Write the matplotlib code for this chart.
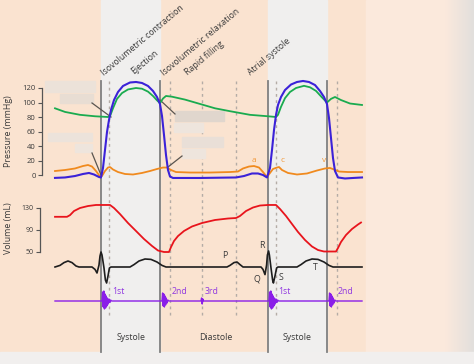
import matplotlib
matplotlib.use("Agg")
import matplotlib.pyplot as plt
import numpy as np
from matplotlib.patches import Rectangle

plt.rcParams['font.family'] = ['Open Sans', 'DejaVu Sans']

# ---------------- data (time in ms, R wave of first beat at 0) ----------------
aortic_t = [-230, -180, -105, -30, 35, 45, 60, 80, 105, 135, 175, 205, 235, 260, 280, 295,
            310, 325, 355, 420, 495, 570, 645, 745, 835, 875, 885, 900, 920, 945, 975, 1015,
            1045, 1075, 1105, 1130, 1150, 1170, 1200, 1245, 1305]
aortic_p = [92, 87, 83, 81, 80, 81, 92, 105, 113, 118, 120, 119, 115, 109, 103, 99,
            105.5, 109, 108, 104, 98, 92, 88, 83, 81, 80, 83, 94, 106, 114.5, 120, 123,
            121, 116, 107, 100, 105, 107.6, 103.4, 98.6, 96.6]

lv_t = [-230, -180, -130, -90, -60, -35, -10, 0, 10, 20, 30, 40, 50, 65, 85, 110, 145, 175,
        205, 235, 260, 280, 295, 305, 315, 325, 335, 345, 360, 495, 675, 715, 755, 785, 810,
        830, 845, 855, 865, 875, 885, 900, 920, 950, 980, 1010, 1040, 1070, 1095, 1115,
        1130, 1140, 1150, 1160, 1170, 1185, 1220, 1260, 1305]
lv_p = [-4, -3.4, -1.4, 1.4, 2.8, 0.7, -2.8, -3.4, 9.7, 34.5, 59.3, 75.9, 89.7, 103.4,
        114.5, 122.8, 127.6, 128.3, 126.9, 122.8, 115.9, 107.6, 97.9, 81.4, 55.2, 27.6,
        6.9, -2.1, -4.1, -4.1, -3.4, -1.4, 2.1, 2.1, 0, -3.4, 9.7, 34.5, 62, 82.8, 96.6,
        107.6, 117.2, 124.8, 128.3, 129.7, 128.3, 124.1, 115.9, 107.6, 97.9, 78.6, 51,
        23.4, 5.5, -3.4, -4.8, -4.1, -3.4]

atrial_t = [-230, -180, -130, -90, -65, -45, -25, -5, 5, 20, 35, 45, 60, 85, 120, 160, 205,
            245, 280, 310, 330, 350, 375, 445, 545, 645, 685, 710, 740, 765, 790, 810, 830,
            845, 860, 880, 890, 905, 935, 980, 1030, 1080, 1120, 1145, 1165, 1190, 1235, 1305]
atrial_p = [5.5, 6.9, 9, 12.4, 13.8, 11.7, 5.5, -2.1, -1.4, 5.5, 10.3, 11, 7.6, 4.1, 1.4,
            0.7, 2.8, 5.5, 8.3, 10.3, 10.3, 6.9, 4.1, 3.4, 3.4, 4.1, 4.8, 9, 11.7, 12.4,
            10.3, 4.1, -2.8, 2.8, 8.3, 10.3, 11, 6.9, 2.8, 0.7, 2.1, 6.2, 9, 9.7, 7.6, 4.8,
            4.1, 4.1]

volume_t = [-230, -170, -155, -135, -105, -65, -25, 45, 65, 95, 135, 175, 215, 255, 285,
            315, 340, 350, 365, 385, 415, 455, 505, 570, 635, 675, 695, 725, 760, 795, 835,
            875, 895, 925, 955, 985, 1020, 1055, 1085, 1115, 1175, 1185, 1200, 1225, 1255,
            1285, 1300]
volume_ml = [114, 114, 117, 124.5, 130, 133.6, 135.5, 135.5, 130, 119, 102.7, 88.2, 73.6,
             61, 52.7, 50, 50, 59, 70, 79, 88.2, 96.4, 102.7, 108.2, 110.9, 111.8, 115.5,
             124.5, 130.9, 134.5, 135.5, 135.5, 128.2, 115.5, 100.9, 86.4, 71.8, 60, 53.6,
             50.9, 50.9, 57.3, 68.2, 80.9, 91.8, 100, 103.6]

ecg_t = [-230, -205, -185, -165, -145, -125, -110, -45, -30, -20, -10, -5, 0, 5, 15, 22, 28,
         35, 42, 50, 145, 165, 190, 220, 250, 280, 305, 325, 630, 645, 665, 680, 695, 710,
         800, 810, 820, 828, 832, 838, 842, 850, 858, 862, 870, 878, 885, 980, 1000, 1025,
         1055, 1085, 1115, 1140, 1160, 1305]
ecg_mv = [0, 0.08, 0.22, 0.3, 0.22, 0.05, 0, 0, -0.12, -0.3, 0.1, 0.55, 0.75, 0.6, -0.05,
          -0.65, -0.8, -0.45, -0.05, 0, 0, 0.12, 0.3, 0.4, 0.38, 0.25, 0.08, 0, 0, 0.08,
          0.22, 0.25, 0.12, 0, 0, -0.12, -0.38, 0.1, 0.6, 0.8, 0.6, -0.05, -0.65, -0.8,
          -0.45, -0.05, 0, 0, 0.12, 0.3, 0.4, 0.38, 0.25, 0.08, 0, 0]

sound_t = [-230, 5, 8, 11, 14, 17, 20, 23, 26, 29, 32, 36, 40, 44, 48, 53,
           305, 308, 311, 314, 317, 320, 323, 326, 330, 334, 339,
           500, 503, 506, 509, 512,
           840, 843, 846, 849, 852, 855, 858, 861, 864, 867, 871, 875, 879, 883, 888,
           1140, 1143, 1146, 1149, 1152, 1155, 1158, 1161, 1165, 1169, 1174, 1305]
sound_a = [0, 0, 9, -6, 10, -8, 7, -7, 5, -5, 3, -3, 2, -1.5, 1, 0,
           0, 8, -5, 7, -6, 5, -4, 3, -2, 1, 0,
           0, 3, -3, 2, 0,
           0, 9, -6, 10, -8, 7, -7, 5, -5, 3, -3, 2, -1.5, 1, 0,
           0, 8, -5, 7, -6, 5, -4, 3, -2, 1, 0, 0]

pressure_ticks = [0, 20, 40, 60, 80, 100, 120]
volume_ticks = [50, 90, 130]
phase_labels = ['Isovolumetric contraction', 'Ejection', 'Isovolumetric relaxation',
                'Rapid filling', 'Atrial systole']
cycle_labels = ['Systole', 'Diastole', 'Systole']
wave_labels = ['a', 'c', 'v']
ecg_labels = ['P', 'R', 'Q', 'S', 'T']
sound_labels = ['1st', '2nd', '3rd', '1st', '2nd']

# ---------------- layout ----------------
W, H = 474, 364
fig = plt.figure(figsize=(W / 100, H / 100), dpi=100)

PEACH = '#fae3d0'
BAND = '#f0efee'
bg = fig.add_axes([0, 0, 1, 1])
bg.set_xlim(0, W)
bg.set_ylim(H, 0)
bg.axis('off')
bg.add_patch(Rectangle((0, 0), W, H, color=PEACH, zorder=0))
bg.add_patch(Rectangle((366, 0), W - 366, H, color='#fbe9dc', zorder=0))
grad = np.linspace(0, 1, 40)[None, :]
bg.imshow(grad, extent=(445, 474, 352, 0), cmap=matplotlib.colors.LinearSegmentedColormap.from_list(
    'g', ['#fbe9dc', '#e2dfdd']), aspect='auto', zorder=0.5)
bg.add_patch(Rectangle((101, 0), 59, 352, color=BAND, zorder=1))
bg.add_patch(Rectangle((268, 0), 59, 352, color=BAND, zorder=1))
bg.add_patch(Rectangle((0, 352), W, 12, color='#f1efee', zorder=1))
bg.set_xlim(0, W)
bg.set_ylim(H, 0)

for x in [101, 160, 268, 327]:
    bg.plot([x, x], [81, 352], color='#808080', lw=1.3, zorder=2)
for x in [109.5, 170, 202, 236, 276, 337]:
    bg.plot([x, x], [81, 318], color='#b4aca6', lw=1.0, ls=(0, (2, 2.5)), zorder=2)

# blurred (hidden) label boxes
boxes = [(45, 81, 50, 11, '#ece2d9'), (60, 94, 33, 9, '#e8ddd3'), (48, 133, 44, 8, '#ece3db'),
         (75, 144, 17, 8, '#eee5dd'), (175, 111, 49, 10, '#e0d6cd'), (174, 123, 29, 9, '#eee5dd'),
         (182, 137, 41, 10, '#e9dfd7'), (182, 149, 23, 9, '#eee5dd')]
for (x, y, w, h, c) in boxes:
    bg.add_patch(Rectangle((x, y), w, h, color=c, zorder=2))
for (x0, y0, x1, y1) in [(92, 103, 111, 117), (92, 153, 101, 175), (160, 100, 175, 114),
                         (182, 156, 168, 167)]:
    bg.plot([x0, x1], [y0, y1], color='#5a5550', lw=0.9, zorder=3)

TXT = '#3a3a3a'
for (lbl, (x, y)) in zip(phase_labels, [(104, 76), (134, 74), (164, 76), (188, 75), (251, 75)]):
    bg.text(x, y, lbl, rotation=40, rotation_mode='anchor', ha='left', va='baseline',
            fontsize=6.3, color=TXT, zorder=5)
for (lbl, x) in zip(cycle_labels, [131, 216, 297]):
    bg.text(x, 338, lbl, ha='center', va='center', fontsize=6.3, color=TXT, zorder=5)
bg.text(9, 131, 'Pressure (mmHg)', rotation=90, ha='center', va='center', fontsize=6.3,
        color=TXT, zorder=5)
bg.text(9, 228, 'Volume (mL)', rotation=90, ha='center', va='center', fontsize=6.3,
        color=TXT, zorder=5)
for (lbl, (x, y)) in zip(wave_labels, [(254, 161), (283, 161), (324, 161)]):
    bg.text(x, y, lbl, ha='center', va='center', fontsize=6, color='#f29a3c', zorder=5)
for (lbl, (x, y)) in zip(ecg_labels, [(225, 256), (262, 245), (257, 279), (281, 278),
                                      (315, 267)]):
    bg.text(x, y, lbl, ha='center', va='center', fontsize=6.3, color=TXT, zorder=5)
for (lbl, x) in zip(sound_labels, [112, 172, 205, 278, 338]):
    bg.text(x, 292, lbl, ha='left', va='center', fontsize=6.3, color='#9038e0', zorder=5)

# ---------------- data axes (full figure, unit mapping matches pixels) ----------------
XL = (5 * (0 - 101), 5 * (W - 101))


def data_axes(ylim):
    ax = fig.add_axes([0, 0, 1, 1])
    ax.patch.set_visible(False)
    ax.set_xlim(*XL)
    ax.set_ylim(*ylim)
    for s in ax.spines.values():
        s.set_visible(False)
    ax.set_xticks([])
    ax.set_yticks([])
    return ax


pax = data_axes(((175 - H) / 0.725, 175 / 0.725))
pax.plot(aortic_t, aortic_p, color='#1aab4f', lw=1.3)
pax.plot(atrial_t, atrial_p, color='#f08a1e', lw=1.3)
pax.plot(lv_t, lv_p, color='#3b22d8', lw=1.5)
pax.spines['left'].set_visible(True)
pax.spines['left'].set_position(('data', 5 * (42 - 101)))
pax.spines['left'].set_bounds(0, 120)
pax.spines['left'].set_color('#555555')
pax.spines['left'].set_linewidth(0.9)
pax.set_yticks(pressure_ticks)
pax.tick_params(axis='y', direction='out', length=3, width=0.8, color='#555555',
                labelsize=5.5, labelcolor=TXT, pad=1.5)

vax = data_axes((130 - (H - 208) / 0.55, 130 + 208 / 0.55))
vax.plot(volume_t, volume_ml, color='#e8141c', lw=1.3)
vax.spines['left'].set_visible(True)
vax.spines['left'].set_position(('data', 5 * (40 - 101)))
vax.spines['left'].set_bounds(50, 130)
vax.spines['left'].set_color('#555555')
vax.spines['left'].set_linewidth(0.9)
vax.set_yticks(volume_ticks)
vax.tick_params(axis='y', direction='out', length=3, width=0.8, color='#555555',
                labelsize=5, labelcolor=TXT, pad=1.5)

eax = data_axes(((267 - H) / 20, 267 / 20))
eax.plot(ecg_t, ecg_mv, color='#1e1e1e', lw=1.2)

sax = data_axes((301 - H, 301))
sax.plot(sound_t, sound_a, color='#8a1ee8', lw=1.0)

fig.savefig('out.png', dpi=100)
